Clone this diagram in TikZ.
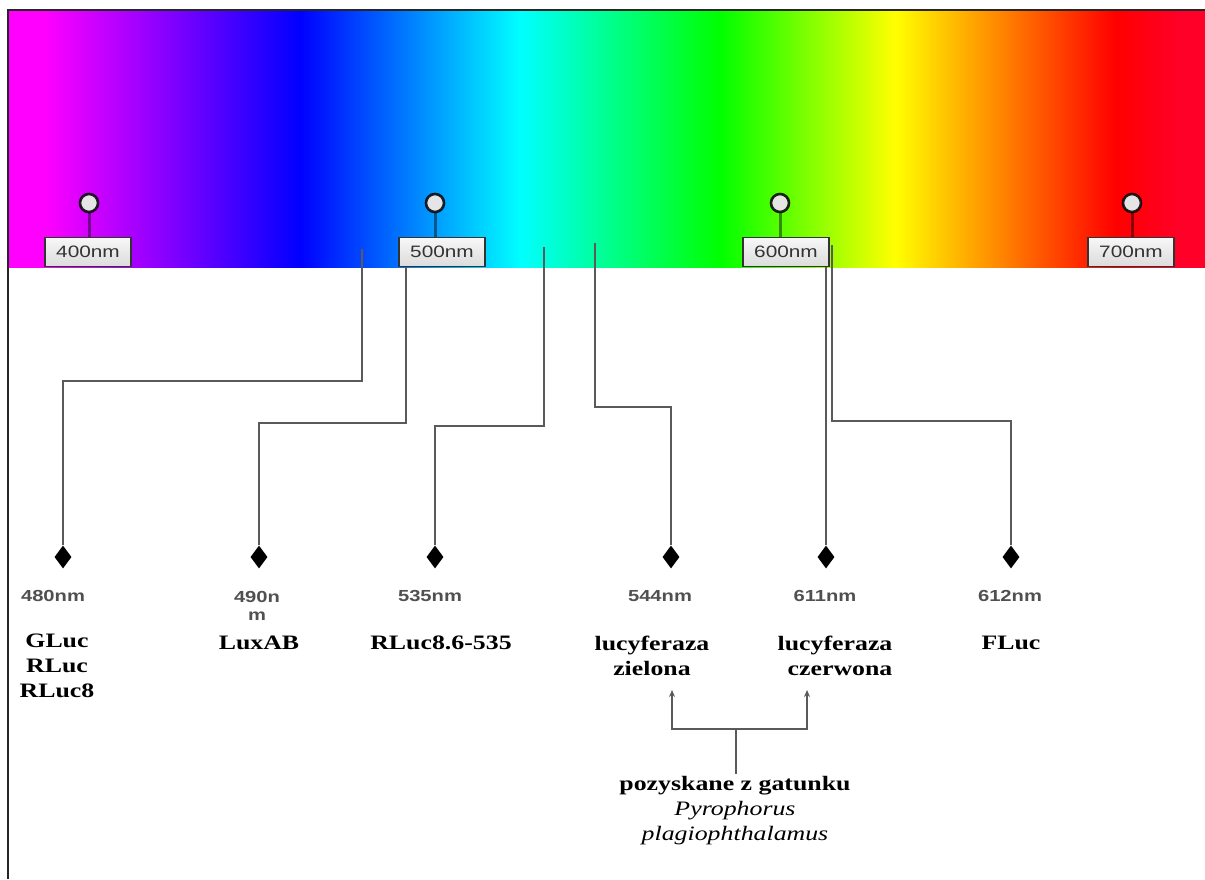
\documentclass[tikz,border=0pt]{standalone}
\usepackage{fontspec}
\setmainfont{Liberation Serif}[FakeStretch=1.26]
\newfontfamily\labelsans{Liberation Sans}[FakeStretch=1.26]
\usetikzlibrary{shapes.geometric,arrows.meta}
\definecolor{sp0}{RGB}{255,0,255}
\definecolor{sp1}{RGB}{0,0,255}
\definecolor{sp2}{RGB}{0,255,255}
\definecolor{sp3}{RGB}{0,255,0}
\definecolor{sp4}{RGB}{255,255,0}
\definecolor{sp5}{RGB}{255,0,0}
\definecolor{sp6}{RGB}{255,0,40}
\definecolor{conngray}{RGB}{90,90,90}
\definecolor{labgray}{RGB}{80,80,80}
\pgfdeclarehorizontalshading{spectrum}{100bp}{color(0bp)=(sp0); color(26.55bp)=(sp0); color(37.20bp)=(sp1); color(46.39bp)=(sp2); color(54.74bp)=(sp3); color(62.05bp)=(sp4); color(71.24bp)=(sp5); color(73.95bp)=(sp6); color(100bp)=(sp6)}
\begin{document}
\begin{tikzpicture}[x=1pt,y=-1pt,
  circ/.style={circle, draw=black, draw opacity=0.85, line width=2.6pt, fill=black!10, minimum size=18pt, inner sep=0pt},
  nmbox/.style={draw=black!80, line width=1.1pt, top color=white!97!black, bottom color=black!14, minimum width=86pt, minimum height=29pt, inner sep=0pt, font=\labelsans\fontsize{16.5}{18}\selectfont, text=black!80},
  stem/.style={line width=3pt, draw=black, draw opacity=0.45},
  conn/.style={draw=conngray, line width=2.4pt},
  dmd/.style={diamond, fill=black, minimum width=17pt, minimum height=23pt, inner sep=0pt},
  nmlab/.style={font=\labelsans\bfseries\fontsize{16}{18}\selectfont, text=labgray, align=center, inner sep=0pt},
  namelab/.style={font=\bfseries\fontsize{20.5}{25}\selectfont, align=center, inner sep=0pt},
  arr/.style={draw=conngray, line width=2pt, -{Stealth[length=7pt,width=6pt]}},
  ]
\useasboundingbox (0,0) rectangle (1205,879);
\fill[white] (0,0) rectangle (1205,879);
% spectrum
\shade[shading=spectrum] (8,10) rectangle (1205,267);
\draw[line width=1.5pt, black!85] (8,879) -- (8,10) -- (1205,10);

% scale markers
\node[circ] (c400) at (89,203) {};
\node[circ] (c500) at (435,203) {};
\node[circ] (c600) at (780,203) {};
\node[circ] (c700) at (1132,203) {};
\node[nmbox] (b400) at (88,252) {400nm};
\node[nmbox] (b500) at (442,252) {500nm};
\node[nmbox] (b600) at (786,252) {600nm};
\node[nmbox] (b700) at (1131,252) {700nm};
\draw[stem] (c400.south) -- (c400.south |- b400.north);
\draw[stem] (c500.south) -- (c500.south |- b500.north);
\draw[stem] (c600.south) -- (c600.south |- b600.north);
\draw[stem] (c700.south) -- (c700.south |- b700.north);

% diamonds
\node[dmd] (d480) at (63,557) {};
\node[dmd] (d490) at (259,557) {};
\node[dmd] (d535) at (435,557) {};
\node[dmd] (d544) at (671,557) {};
\node[dmd] (d611) at (826,557) {};
\node[dmd] (d612) at (1011,557) {};

% connector start points on the spectrum
\coordinate (s480) at (362,249);
\coordinate (s490) at (406,267);
\coordinate (s535) at (544,247);
\coordinate (s544) at (595,243);
\coordinate (s611) at (826,267);
\coordinate (s612) at (832,245);

\draw[conn] (s480) -- (s480 |- 0,381) -| (d480.north);
\draw[conn] (s490) -- (s490 |- 0,423) -| (d490.north);
\draw[conn] (s535) -- (s535 |- 0,426) -| (d535.north);
\draw[conn] (s544) -- (s544 |- 0,407) -| (d544.north);
\draw[conn] (s611) -- (d611.north);
\draw[conn] (s612) -- (s612 |- 0,421) -| (d612.north);

% wavelength labels
\node[nmlab] (t480) at (53,596) {480nm};
\node[nmlab] (t490) at (257,606) {490n\\m};
\node[nmlab] (t535) at (430,596) {535nm};
\node[nmlab] (t544) at (660,596) {544nm};
\node[nmlab] (t611) at (825,596) {611nm};
\node[nmlab] (t612) at (1010,596) {612nm};

% names
\node[namelab] (n480) at (57,666) {GLuc\\RLuc\\RLuc8};
\node[namelab] (n490) at (259,643) {LuxAB};
\node[namelab] (n535) at (441,643) {RLuc8.6-535};
\node[namelab] (n544) at (652,656) {lucyferaza\\zielona};
\node[namelab] (n611) at (835,656) {lucyferaza\\\hspace*{10pt}czerwona};
\node[namelab] (n612) at (1011,643) {FLuc};

% source
\node[namelab, inner sep=3pt] (src) at (735,811) {pozyskane z gatunku\\\mdseries\itshape Pyrophorus\\\mdseries\itshape plagiophthalamus};
\coordinate (jn) at (736,729);
\coordinate (tipL) at (672,690);
\coordinate (tipR) at (807,690);
\draw[draw=conngray, line width=2pt] (src.north -| jn) -- (jn);
\draw[arr] (jn) -| (tipL);
\draw[arr] (jn) -| (tipR);
\end{tikzpicture}
\end{document}
